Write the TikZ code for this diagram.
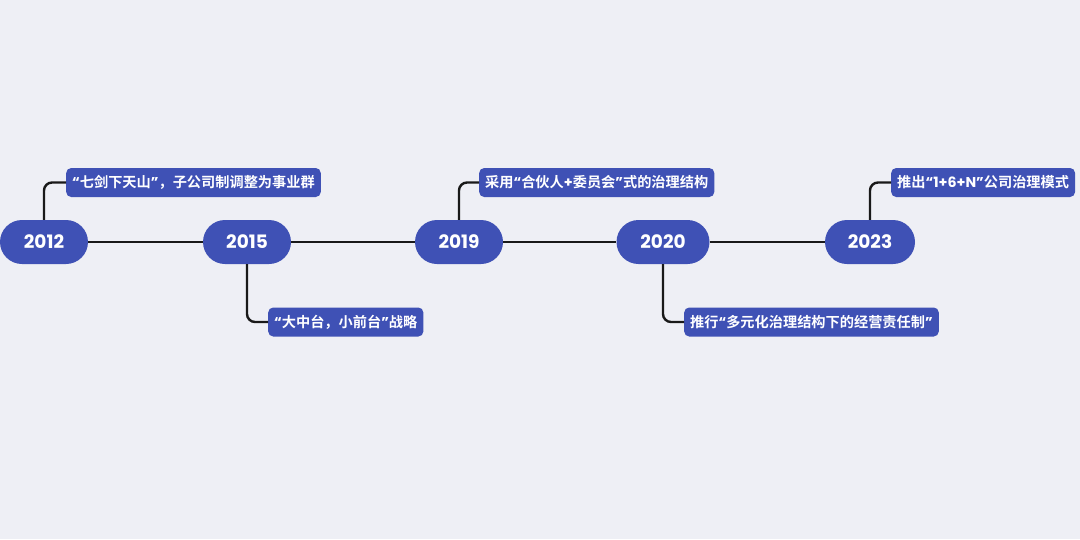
\documentclass[tikz,border=0pt]{standalone}
\usepackage{fontspec}
\setmainfont{Poppins}
\newfontfamily\cjk{Noto Sans CJK SC}[BoldFont={* Bold}]
\usetikzlibrary{positioning}
\definecolor{bgcol}{RGB}{238,239,245}
\definecolor{pillcol}{RGB}{63,81,181}
\newcommand{\ql}{{\rmfamily\bfseries “}}
\newcommand{\qr}{{\rmfamily\bfseries ”}}
\begin{document}
\begin{tikzpicture}[
        x=1pt, y=-1pt,
        year/.style={draw=none, fill=pillcol, rounded corners=22pt, minimum width=88pt, minimum height=44pt,
            inner sep=0pt, text=white, font=\fontsize{18.5}{21}\selectfont\bfseries},
        event/.style={fill=pillcol, rounded corners=5pt, minimum height=29pt, inner xsep=6pt, inner ysep=0pt,
            text=white, font=\fontsize{14.2}{16}\selectfont\cjk\bfseries},
        link/.style={draw=black!90, line width=2.4pt, rounded corners=8pt}
    ]
        \useasboundingbox[fill=bgcol] (0,0) rectangle (1080,539);
        % Anni
        \node [year] (y2012) at (44,242) {2012};
        \node [year] (y2015) at (247,242) {2015};
        \node [year] (y2019) at (459,242) {2019};
        \node [year, minimum width=93pt] (y2020) at (663,242) {2020};
        \node [year, minimum width=90pt] (y2023) at (870,242) {2023};

        % Eventi
        \node [event, anchor=west] (e2012) at (66,182.5) {\ql 七剑下天山\qr ，子公司制调整为事业群};
        \node [event, anchor=west] (e2015) at (268,322) {\ql 大中台，小前台\qr 战略};
        \node [event, anchor=west] (e2019) at (479,182.5) {采用\ql 合伙人{\rmfamily\bfseries +}委员会\qr 式的治理结构};
        \node [event, anchor=west] (e2020) at (684,322) {推行\ql 多元化治理结构下的经营责任制\qr};
        \node [event, anchor=west] (e2023) at (891,182.5) {推出\ql{\rmfamily\bfseries 1+6+N}\qr 公司治理模式};

        % Linea del tempo
        \draw [link] (y2012) -- (y2015);
        \draw [link] (y2015) -- (y2019);
        \draw [link] (y2019) -- (y2020);
        \draw [link] (y2020) -- (y2023);

        % Collegamenti
        \draw [link] (y2012.north) |- (e2012.west);
        \draw [link] (y2015.south) |- (e2015.west);
        \draw [link] (y2019.north) |- (e2019.west);
        \draw [link] (y2020.south) |- (e2020.west);
        \draw [link] (y2023.north) |- (e2023.west);
    \end{tikzpicture}
\end{document}
